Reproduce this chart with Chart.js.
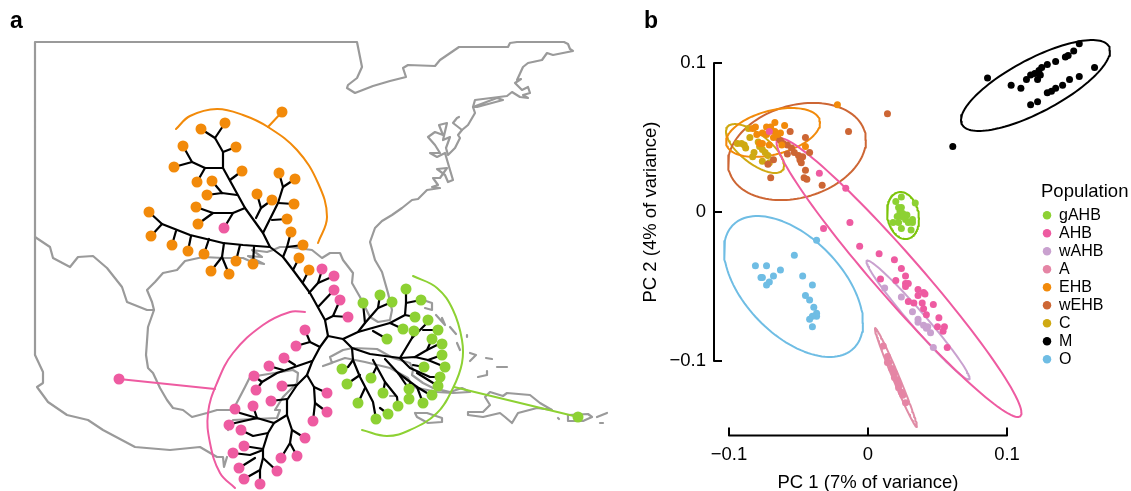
<!DOCTYPE html>
<html>
<head>
<meta charset="utf-8">
<script src="https://cdn.jsdelivr.net/npm/chart.js@4"></script>
<style>
html, body { margin: 0; background: #fff; }
#page { position: relative; width: 1131px; height: 491px; overflow: hidden; }
canvas { position: absolute; }
#mapChart { left: 0; top: 0; }
#pcaChart { left: 640px; top: -40px; }
.panel { position: absolute; top: 7px; font: bold 23px "Liberation Sans", sans-serif; color: #000; }
</style>
</head>
<body>
<div id="page">
  <canvas id="mapChart" width="640" height="491"></canvas>
  <canvas id="pcaChart" width="491" height="534"></canvas>
  <div class="panel" style="left:10px">a</div>
  <div class="panel" style="left:644px">b</div>
</div>
<script>
// ---- panel b data: PC1, PC2 per bee
const populations = ['gAHB', 'AHB', 'wAHB', 'A', 'EHB', 'wEHB', 'C', 'M', 'O'];
const popColors = ['#8dd133', '#ee5ba1', '#c9a1cf', '#e585a5', '#f28a0a', '#cd6634', '#cfa912', '#000000', '#6fbde4'];
const ringColors = ['#7cc40a', '#ee5ba1', '#c9a1cf', '#e08ca6', '#f28a0a', '#cd6634', '#cfa912', '#000000', '#6fbde4'];

const pc_gAHB = [[.024,.010],[.020,.007],[.034,.006],[.024,.003],[.022,.003],[.023,0],[.025,-.001],[.028,-.002],[.024,-.003],[.021,-.003],[.018,-.007],[.027,-.005],[.032,-.005],[.029,-.007],[.032,-.007],[.022,-.007],[.024,-.011],[.031,-.012]];
const pc_AHB = [[-.071,.054],[-.035,.026],[-.016,.016],[-.013,-.007],[-.032,-.011],[-.006,-.023],[.008,-.028],[.019,-.032],[.024,-.038],[.027,-.043],[.009,-.045],[.020,-.046],[.029,-.048],[.027,-.048],[.027,-.050],[.036,-.052],[.036,-.056],[.040,-.054],[.041,-.055],[.029,-.060],[.033,-.061],[.039,-.061],[.047,-.062],[.040,-.065],[.042,-.069],[.051,-.071],[.050,-.077],[.055,-.077],[.054,-.080],[.057,-.091]];
const pc_wAHB = [[.012,-.051],[.024,-.057],[.032,-.067],[.036,-.072],[.036,-.074],[.040,-.076],[.043,-.077],[.042,-.078],[.045,-.081],[.047,-.091]];
const pc_A = [[.011,-.090],[.014,-.097],[.014,-.101],[.017,-.105],[.019,-.108],[.021,-.113],[.022,-.118],[.024,-.121],[.027,-.128],[.015,-.101],[.019,-.111],[.022,-.116],[.025,-.123]];
const pc_EHB = [[-.022,.072],[-.060,.058],[-.067,.060],[-.073,.057],[-.070,.057],[-.081,.057],[-.083,.056],[-.080,.052],[-.076,.053],[-.073,.052],[-.067,.054],[-.063,.053],[-.068,.050],[-.065,.052],[-.062,.045],[-.071,.045],[-.078,.046],[-.076,.046],[-.045,.044]];
const pc_wEHB = [[.014,.066],[-.014,.054],[-.045,.050],[-.056,.054],[-.058,.039],[-.042,.040],[-.053,.040],[-.050,.038],[-.047,.037],[-.049,.035],[-.048,.033],[-.045,.028],[-.046,.023],[-.044,.022],[-.033,.018],[-.070,.023],[-.068,.035],[-.072,.032],[-.063,.048],[-.061,.046],[-.058,.045],[-.055,.043],[-.065,.050]];
const pc_C = [[-.086,.056],[-.085,.050],[-.094,.046],[-.091,.046],[-.089,.045],[-.088,.043],[-.082,.040],[-.083,.037],[-.078,.044],[-.076,.042],[-.074,.040],[-.072,.038],[-.076,.034],[-.071,.033],[-.079,.047]];
const pc_M = [[.061,.044],[.086,.090],[.103,.085],[.110,.083],[.117,.072],[.122,.074],[.129,.080],[.132,.081],[.135,.083],[.140,.085],[.145,.089],[.152,.091],[.163,.097],[.114,.089],[.117,.092],[.120,.093],[.122,.089],[.124,.092],[.123,.095],[.125,.097],[.129,.099],[.135,.101],[.142,.104],[.144,.105],[.148,.108],[.152,.113]];
const pc_O = [[-.037,-.019],[-.053,-.029],[-.081,-.036],[-.073,-.036],[-.063,-.039],[-.068,-.043],[-.076,-.044],[-.077,-.044],[-.071,-.047],[-.073,-.049],[-.047,-.043],[-.040,-.049],[-.045,-.056],[-.042,-.059],[-.039,-.064],[-.037,-.068],[-.037,-.070],[-.040,-.070],[-.042,-.072],[-.040,-.077]];
const pcPoints = [pc_gAHB, pc_AHB, pc_wAHB, pc_A, pc_EHB, pc_wEHB, pc_C, pc_M, pc_O];

// confidence ellipses, same order as populations
const ringCx = [.0252, .0223, .0360, .0201, -.0683, -.0511, -.0813, .1205, -.0536];
const ringCy = [-.0024, -.0440, -.0725, -.1111, .0534, .0406, .0426, .0849, -.0500];
const ringSx = [.0115, .0881, .0371, .0151, .0338, .0496, .0209, .0536, .0500];
const ringSy = [.0158, .0936, .0399, .0332, .0164, .0326, .0164, .0305, .0473];
const ringR = [-.15, -.97, -.98, -.986, .39, .23, -.69, .76, -.52];

const pcTicks = [-0.1, 0, 0.1];
const pcTickLabels = ['\u22120.1', '0', '0.1'];

// ---- panel a data: map outline, in map units
const coastNorth = [[35,355],[35,42],[357,42],[362,67],[357,78],[348,85],[347,88],[355,93],[373,86],[390,81],[406,77],[403,68],[408,65],[435,66],[440,60],[459,47],[508,47],[510,43],[517,42],[564,42],[568,44],[570,49],[573,51],[553,55],[547,53],[542,60],[528,63],[523,67],[517,80],[521,79],[515,83],[522,90],[528,87],[530,93],[523,95],[528,98],[520,97],[512,92],[507,96],[475,100],[473,107],[475,113],[468,125],[462,130],[453,123],[457,118],[459,117]];
const longIsland = [[473,107],[497,98],[503,100],[477,107],[473,107]];
const coastEast = [[462,130],[458,135],[460,138],[455,148],[448,155],[446,148],[450,137],[443,140],[447,123],[439,125],[443,135],[435,132],[428,137],[435,145],[440,153],[430,153],[437,157],[445,153],[450,170],[453,180],[448,182],[445,175],[437,169],[447,168],[440,178],[433,178],[438,185],[432,187],[440,188],[427,190],[418,199],[412,200],[402,208],[392,215],[382,221],[375,228],[370,242],[375,260],[382,272],[388,293],[392,310],[390,320],[378,322],[370,317],[360,297],[352,283],[353,273],[343,260],[340,253],[330,253],[322,258],[312,250],[290,247],[280,247],[273,250],[267,252],[252,250],[262,257],[248,256],[264,264],[252,262],[243,258],[223,258],[203,257],[185,261],[177,270],[163,273],[155,282],[147,290],[152,302],[154,310],[148,327],[146,355],[148,368],[153,373],[160,388],[167,400],[173,408],[183,410],[192,417],[207,413],[217,410],[233,410],[245,387],[250,377],[293,370],[298,373],[297,383],[283,397],[275,410],[280,410],[277,418],[233,420],[228,430]];
const riverBorder = [[35,237],[50,247],[53,258],[70,267],[78,257],[93,256],[107,268],[122,287],[127,302],[147,310],[154,310]];
const coastWest = [[35,355],[43,372],[43,383],[37,387],[48,402],[67,415],[88,420],[103,430],[135,447],[170,450],[200,447],[217,457],[223,457],[224,467],[227,457]];
const cuba = [[323,366],[332,363],[330,357],[343,350],[353,348],[377,349],[393,358],[410,363],[413,370],[412,375],[423,383],[433,388],[450,392],[462,388],[470,392],[453,393],[437,392],[413,387],[408,378],[390,368],[365,362],[345,358],[323,366]];
const hispaniola = [[468,412],[483,412],[490,405],[485,397],[490,392],[503,396],[507,393],[530,395],[540,403],[552,410],[537,408],[518,413],[512,423],[505,417],[500,413],[483,417],[468,415],[468,412]];
const jamaica = [[415,413],[427,413],[442,418],[442,422],[428,423],[417,417],[415,413]];
const puertoRico = [[568,415],[588,414],[592,417],[583,421],[568,421],[568,415]];
const smallIslands = [[[597,417],[607,413]],[[600,423],[603,423]],[[558,418],[559,419]],[[450,327],[456,334]],[[467,335],[467,337]],[[470,353],[476,355],[470,361]],[[486,358],[492,359]],[[478,377],[487,375],[487,371]],[[497,367],[507,367]],[[436,315],[445,325],[442,318]],[[423,300],[432,303],[432,310],[425,308]],[[457,343],[460,350]],[[390,396],[395,396]]];

// tree: tips
const orangeTips = [[225,123],[201,129],[236,147],[183,146],[174,167],[197,182],[242,171],[212,181],[207,195],[196,207],[198,224],[279,173],[295,179],[257,194],[272,200],[294,204],[287,219],[291,232],[303,245],[299,258],[309,270],[149,212],[151,236],[172,245],[188,251],[204,254],[211,271],[229,274],[236,261],[253,264],[282,112]];
const pinkTips = [[224,228],[322,269],[334,276],[334,290],[340,300],[348,317],[305,330],[296,346],[284,358],[269,366],[254,376],[256,390],[282,386],[271,401],[253,406],[235,409],[229,425],[241,430],[244,446],[233,453],[239,468],[244,479],[260,484],[277,471],[281,458],[297,456],[305,438],[313,421],[327,412],[327,393],[119,379]];
const greenTips = [[406,289],[380,295],[363,303],[392,302],[421,300],[415,317],[428,320],[403,329],[414,331],[438,330],[432,339],[387,339],[442,344],[442,355],[424,367],[445,367],[440,377],[438,386],[432,395],[423,403],[409,389],[409,399],[398,406],[388,414],[376,419],[358,403],[383,393],[371,378],[342,369],[347,384],[578,417]];

// tree: branches
const treeBranches = [
  [[328,336],[325,320],[310,293],[293,270],[283,257],[270,247],[263,233],[245,208],[223,168],[223,152],[215,138],[201,129]],
  [[215,138],[225,123]],[[223,152],[236,147]],
  [[223,168],[205,168],[192,162],[183,146]],[[192,162],[174,167]],[[205,168],[197,182]],
  [[230,180],[242,171]],
  [[237,195],[222,193],[207,195]],[[222,193],[212,181]],
  [[245,208],[233,213],[213,213],[196,207]],[[213,213],[198,224]],[[233,213],[224,228]],
  [[256,218],[261,208],[257,194]],[[261,208],[272,200]],
  [[263,233],[278,203],[283,187],[279,173]],[[283,187],[295,179]],[[278,203],[294,204]],[[272,220],[287,219]],
  [[270,247],[243,245],[223,243],[190,235],[162,224],[149,212]],[[162,224],[151,236]],
  [[176,231],[172,245]],[[191,236],[188,251]],[[209,239],[204,254]],
  [[224,243],[222,257],[211,271]],[[222,257],[229,274]],[[240,245],[236,261]],[[254,247],[253,264]],
  [[283,257],[287,247],[303,245]],[[287,247],[291,232]],[[293,270],[299,258]],[[303,282],[309,270]],
  // pink side
  [[309,293],[318,283],[322,270]],[[318,283],[334,276]],[[318,307],[334,290]],
  [[325,320],[333,316],[340,300]],[[333,316],[348,317]],
  [[328,336],[320,347],[312,362],[307,375],[297,385],[287,400],[287,415],[274,423],[268,433],[263,449],[263,458],[260,470],[260,484]],
  [[320,347],[310,342],[305,330]],[[310,342],[296,346]],
  [[312,361],[277,373],[262,382],[254,376]],[[262,382],[256,390]],[[283,370],[269,366]],[[295,365],[284,358]],
  [[297,385],[282,386]],[[287,399],[271,401]],
  [[307,375],[314,387],[315,403],[313,421]],[[315,403],[327,412]],[[314,387],[327,393]],
  [[287,415],[292,430],[305,438]],[[292,430],[290,443],[281,458]],[[290,443],[297,456]],
  [[274,423],[257,418],[240,413],[235,409]],[[257,418],[253,406]],[[257,418],[235,423],[229,425]],
  [[268,433],[253,436],[241,430]],[[263,449],[244,446]],[[263,450],[250,455],[233,453]],
  [[255,458],[239,468]],[[260,470],[244,479]],[[263,458],[277,471]],
  // green side
  [[328,336],[343,339],[352,348],[370,354],[400,358],[415,357],[428,360],[445,367]],
  [[343,339],[358,332],[365,323],[378,308],[392,302]],[[365,323],[363,303]],[[378,308],[380,295]],
  [[358,332],[390,323],[405,315],[415,317]],[[405,315],[406,303],[406,289]],[[406,303],[421,300]],
  [[373,331],[387,339]],[[390,323],[403,329]],
  [[352,348],[353,360],[360,377],[373,402],[376,419]],[[380,408],[388,414]],[[365,388],[358,403]],
  [[353,360],[348,367],[342,369]],[[360,375],[347,384]],
  [[373,360],[385,382],[397,397],[398,406]],[[385,382],[383,393]],[[376,368],[371,378]],
  [[385,359],[398,373],[417,387],[427,393],[432,395]],[[398,373],[409,389]],[[417,387],[423,403]],[[410,383],[409,399]],
  [[400,358],[410,368],[430,377],[440,377]],[[417,373],[438,386]],[[413,365],[424,367]],
  [[400,358],[412,338],[425,325],[428,320]],[[412,338],[414,331]],[[423,330],[438,330]],
  [[415,357],[427,350],[437,345],[442,344]],[[427,350],[432,339]],[[428,360],[442,355]]
];

// tree: clade arcs and their stems
const orangeArc = [[176,129],[190,116],[217,109],[243,115],[268,127],[297,150],[318,183],[327,217],[318,243]];
const orangeStem = [[268,127],[282,112]];
const pinkArc = [[305,312],[290,312],[263,325],[233,353],[217,383],[208,413],[210,443],[220,473],[235,488]];
const pinkStem = [[119,379],[215,389]];
const greenArc = [[413,276],[437,288],[453,310],[462,340],[462,363],[453,388],[437,413],[410,430],[387,436],[362,430]];
const greenStem = [[454,387],[578,417]];

const ORANGE = '#f28a0a', PINK = '#ee5ba1', GREEN = '#8dd133', MAP_GREY = '#9a9a9a';

Chart.defaults.font.family = '"Liberation Sans", Arial, sans-serif';
Chart.defaults.color = '#000';

const xy = pts => pts.map(([x, y]) => ({ x, y }));

function lineSet(pts, color, width, tension) {
  return {
    data: xy(pts), showLine: true, pointRadius: 0, borderColor: color, borderWidth: width,
    tension: tension || 0, borderCapStyle: 'round', borderJoinStyle: 'round', clip: false
  };
}
function dotSet(pts, color, radius) {
  return { data: xy(pts), pointRadius: radius, pointBackgroundColor: color, backgroundColor: color, pointBorderWidth: 0, borderWidth: 0, clip: false };
}

// panel a: first datasets are painted last
const mapShapes = [coastNorth, longIsland, coastEast, riverBorder, coastWest, cuba, hispaniola, jamaica, puertoRico].concat(smallIslands);
new Chart(document.getElementById('mapChart'), {
  type: 'scatter',
  data: {
    datasets: [
      dotSet(orangeTips, ORANGE, 5.5), dotSet(pinkTips, PINK, 5.5), dotSet(greenTips, GREEN, 5.5),
      lineSet(orangeArc, ORANGE, 2, 0.4), lineSet(pinkArc, PINK, 2, 0.4), lineSet(greenArc, GREEN, 2, 0.4),
      lineSet(orangeStem, ORANGE, 2), lineSet(pinkStem, PINK, 2), lineSet(greenStem, GREEN, 2),
      ...treeBranches.map(b => lineSet(b, '#000', 2.2)),
      ...mapShapes.map(s => lineSet(s, MAP_GREY, 2.2))
    ]
  },
  options: {
    responsive: false, animation: false,
    layout: { autoPadding: false },
    plugins: { legend: { display: false }, tooltip: { enabled: false } },
    scales: {
      x: { display: false, min: 0, max: 640 },
      y: { display: false, min: 0, max: 491, reverse: true }
    }
  }
});

// panel b
const PC_X_EDGE = 0.1108, PC_Y_EDGE = 0.15;

function ringOutline(i) {
  const pts = [];
  const q = Math.sqrt(1 - ringR[i] * ringR[i]);
  for (let k = 0; k <= 120; k++) {
    const t = k / 120 * 2 * Math.PI;
    pts.push([ringCx[i] + ringSx[i] * Math.cos(t),
              ringCy[i] + ringSy[i] * (ringR[i] * Math.cos(t) + q * Math.sin(t))]);
  }
  return pts;
}

// the M cloud sits right of the axis end and the legend sits outside the axes
const panelFitter = {
  id: 'panelFitter',
  afterLayout(chart) {
    chart.chartArea.right = chart.width;
    const l = chart.legend;
    const h = l.columnSizes[0].height + l.options.labels.padding + l._computeTitleHeight();
    l.columnSizes[0].width = 66;
    l.left = 401; l.right = 491; l.width = 90;
    l.top = 223; l.height = h; l.bottom = 223 + h;
  }
};

const pointSets = populations.map((name, i) => ({ label: name, pointStyle: 'circle', ...dotSet(pcPoints[i], popColors[i], 3.5) }));
const ringSets = populations.map((name, i) => lineSet(ringOutline(i), ringColors[i], 2));
const axisSets = [
  lineSet([[pcTicks[0], -PC_Y_EDGE], [pcTicks[2], -PC_Y_EDGE]], '#000', 2),
  lineSet([[-PC_X_EDGE, pcTicks[0]], [-PC_X_EDGE, pcTicks[2]]], '#000', 2)
];

const tickGrid = { drawOnChartArea: false, color: '#000', tickColor: '#000', lineWidth: 2, tickWidth: 2, tickLength: -8 };

new Chart(document.getElementById('pcaChart'), {
  type: 'scatter',
  data: { datasets: [...pointSets, ...ringSets, ...axisSets] },
  plugins: [panelFitter],
  options: {
    responsive: false, animation: false,
    layout: { autoPadding: false, padding: { top: 28.5, right: 109, left: 0, bottom: 0 } },
    plugins: {
      tooltip: { enabled: false },
      legend: {
        position: 'chartArea', align: 'center',
        title: { display: true, text: 'Population', position: 'start', font: { size: 18.5 }, padding: 0 },
        labels: {
          usePointStyle: true, boxWidth: 8, boxHeight: 6, padding: 2, font: { size: 16 }, color: '#000',
          filter: item => item.datasetIndex < populations.length
        }
      }
    },
    scales: {
      x: {
        type: 'linear', min: -PC_X_EDGE, max: PC_X_EDGE,
        border: { display: false }, grid: tickGrid,
        ticks: { font: { size: 18.5 }, padding: 16, maxRotation: 0, callback: v => pcTickLabels[pcTicks.indexOf(v)] },
        afterBuildTicks: s => { s.ticks = pcTicks.map(value => ({ value })); },
        afterFit: s => { s.height = 58.5; },
        title: { display: true, text: 'PC 1 (7% of variance)', font: { size: 18.5 }, padding: 0 }
      },
      y: {
        type: 'linear', min: -PC_Y_EDGE, max: PC_Y_EDGE,
        border: { display: false }, grid: tickGrid,
        ticks: { font: { size: 18.5 }, padding: 16, callback: v => pcTickLabels[pcTicks.indexOf(v)] },
        afterBuildTicks: s => { s.ticks = pcTicks.map(value => ({ value })); },
        afterFit: s => { s.width = 74; },
        title: { display: true, text: 'PC 2 (4% of variance)', font: { size: 18.5 }, padding: 0 }
      }
    }
  }
});
</script>
</body>
</html>
